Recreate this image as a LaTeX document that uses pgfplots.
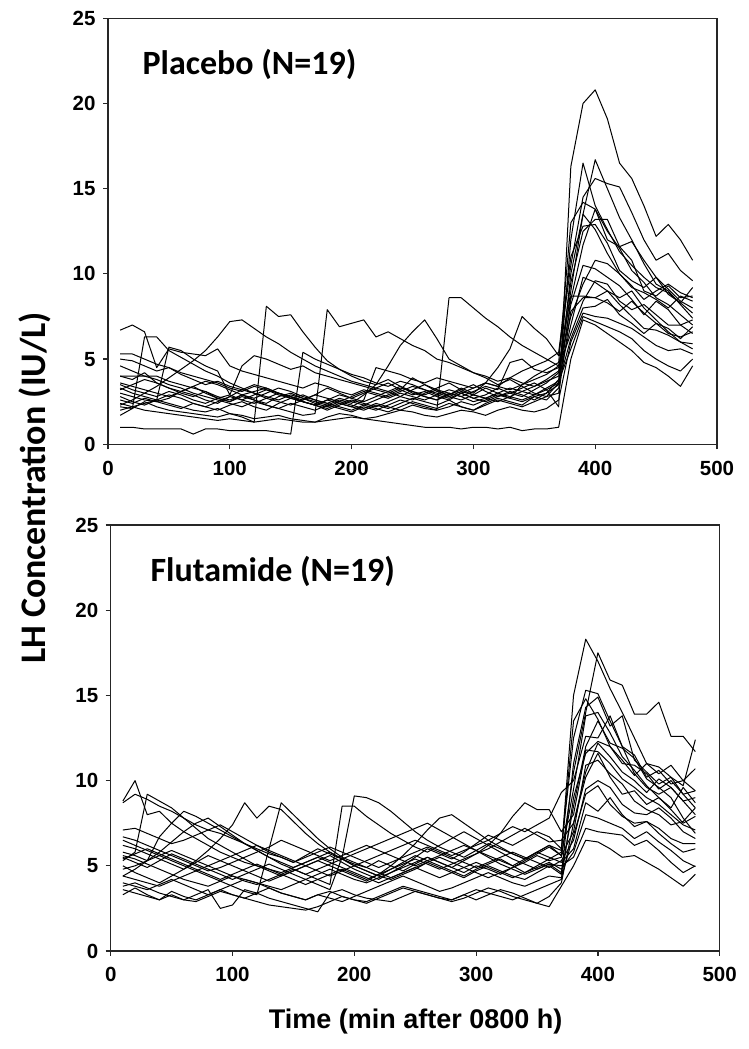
\documentclass[border=0pt]{standalone}
\usepackage{fontspec}
\setmainfont{Liberation Sans}
\newfontfamily\calibri{Carlito}
\usepackage{pgfplots}
\pgfplotsset{compat=1.18}

\newcommand\lh[1]{%
  \def\lhcoords{}%
  \foreach \v [count=\k] in {#1} {\xdef\lhcoords{\lhcoords (\the\numexpr10*\k\relax,\v)}}%
  \edef\lhtmp{\noexpand\addplot[black, line width=1pt, line join=round] coordinates {\lhcoords};}%
  \lhtmp
}

\pgfplotsset{
  lhaxis/.style={
    scale only axis, width=609pt, height=426pt,
    xmin=0, xmax=500, ymin=0, ymax=25,
    xtick={0,100,...,500}, ytick={0,5,...,25},
    tick align=outside, xtick pos=bottom, ytick pos=left,
    major tick length=5pt,
    axis line style={line width=1.2pt, black!85},
    tick style={line width=1.2pt, black!85},
    ticklabel style={font=\fontsize{20.5}{22}\selectfont\bfseries},
    xticklabel style={yshift=-8pt},
    yticklabel style={xshift=-4pt},
    /pgf/number format/assume math mode=true,
  }
}

\begin{document}
\begin{tikzpicture}[x=1pt,y=1pt]
\useasboundingbox (0pt,0pt) rectangle (749pt,1049pt);

\begin{axis}[lhaxis, at={(108pt,604.7pt)}, anchor=south west]
\lh{3.0,2.8,2.6,2.5,2.7,3.1,2.9,2.6,2.4,2.8, 3.2,3.0,2.7,2.5,2.3,2.6,2.9,3.3,3.0,2.7, 2.5,2.8,3.1,3.4,3.0,2.8,2.6,2.9,3.2,3.5, 3.1,2.8,3.0,3.3,3.6,3.2,2.2, 16.3,20.0,20.8,19.1,16.5,15.6,14.0,12.2,12.9,12.0,10.8}
\lh{4.0,3.8,4.2,3.6,3.3,3.0,2.8,3.1,2.7,2.5, 2.9,2.6,2.4,2.8,3.0,2.7,2.5,2.3,2.6,2.4, 2.9,3.5,4.6,5.8,6.6,7.3,6.2,5.0,4.6,4.2, 3.9,3.5,3.8,3.4,3.0,2.8,3.6, 12.0,16.5,14.0,12.6,11.3,10.5,9.8,9.2,8.9,8.3,7.7}
\lh{2.3,2.6,3.0,3.4,3.9,4.4,4.9,5.5,6.3,7.2, 7.3,6.8,6.3,5.9,5.4,5.0,4.6,4.3,4.0,3.7, 3.5,3.3,3.6,3.2,2.9,3.1,2.8,2.6,3.0,2.7, 2.9,3.3,3.0,2.8,3.2,3.6,4.2, 9.0,13.5,16.7,15.0,13.3,12.0,10.6,9.4,9.0,8.2,7.4}
\lh{3.6,3.4,3.2,3.0,2.8,3.1,3.4,3.0,2.7,2.9, 2.6,2.4,2.7,3.0,2.8,2.5,2.3,2.6,2.9,2.7, 3.0,3.3,3.1,2.8,3.2,3.5,3.1,2.9,3.3,3.0, 3.6,4.5,5.6,7.5,6.8,6.2,5.2, 10.5,14.5,15.6,15.3,15.1,13.6,12.0,10.8,11.2,10.2,9.6}
\lh{3.3,3.0,2.8,2.6,2.4,2.2,2.0,1.9,2.1,1.8, 1.6,1.3,8.1,7.5,7.6,6.6,5.7,4.9,4.4,4.0, 3.7,3.5,3.8,3.4,3.1,2.9,3.2,2.8,2.6,2.9, 3.3,3.0,2.7,3.5,4.0,4.4,4.8, 13.0,14.2,13.8,12.5,11.5,10.2,9.5,8.6,8.2,7.6,7.0}
\lh{5.3,5.3,5.0,4.7,4.5,4.2,4.0,3.8,3.6,3.3, 3.1,3.4,3.2,2.9,2.7,2.5,2.3,2.6,2.4,2.2, 2.0,2.3,2.1,2.4,2.7,2.5,2.3,2.6,2.2,2.0, 2.4,2.7,2.5,2.3,2.8,2.6,3.3, 8.5,11.7,13.8,12.0,11.6,10.8,9.0,8.7,9.3,8.6,8.7}
\lh{2.8,2.5,2.3,2.6,2.9,2.7,2.4,2.2,2.5,2.8, 2.6,2.9,3.2,3.0,2.7,2.5,2.3,2.0,2.3,2.6, 2.4,2.2,2.5,2.8,2.6,3.0,3.3,3.6,3.2,2.9, 2.7,2.5,2.8,3.1,3.4,3.8,4.3, 9.5,12.5,13.2,13.2,11.6,11.9,10.8,9.8,9.1,8.4,8.0}
\lh{6.7,7.0,6.6,4.5,5.6,5.4,5.3,5.2,5.6,4.6, 4.3,4.1,3.9,3.7,3.5,3.3,3.6,3.4,3.1,2.9, 3.2,3.0,2.8,3.1,3.4,3.2,2.9,2.7,3.0,3.3, 3.6,3.4,3.9,4.3,4.6,4.9,5.4, 11.0,12.8,12.9,11.8,10.2,9.6,9.2,9.8,8.8,8.3,9.2}
\lh{2.2,2.1,6.3,6.3,5.5,5.1,4.7,4.3,4.0,3.6, 3.3,3.0,2.8,2.6,2.9,2.7,2.4,2.2,2.5,2.3, 2.1,2.4,2.2,2.0,2.3,2.1,2.0,2.2,2.5,2.3, 2.6,2.9,2.7,2.5,2.8,3.0,3.5, 10.0,13.5,12.6,11.2,10.0,9.2,8.9,8.5,8.0,8.7,8.4}
\lh{3.5,3.2,3.0,2.8,3.1,2.9,2.6,2.4,2.7,2.5, 2.8,2.6,2.3,2.1,2.4,2.2,2.0,2.3,2.1,1.9, 2.2,2.0,2.3,2.6,2.4,2.2,2.0,8.6,8.6,8.0, 7.4,6.9,6.3,5.8,5.4,5.0,4.6, 7.5,9.4,10.8,10.6,10.0,9.3,8.5,9.0,9.4,8.9,8.6}
\lh{4.6,4.3,4.0,3.8,3.5,3.3,3.0,2.8,2.6,2.4, 2.2,2.5,2.3,2.1,1.9,1.7,1.8,7.9,6.9,7.1, 7.3,6.3,6.6,6.2,5.8,5.5,5.0,4.8,4.5,4.2, 4.0,3.7,3.9,3.6,3.4,3.7,4.0, 8.2,10.5,10.3,9.8,9.3,8.5,7.6,8.4,7.9,7.0,6.5}
\lh{5.0,4.9,4.6,4.3,4.5,4.1,3.8,3.5,3.7,3.4, 3.2,3.5,3.3,3.0,2.8,2.6,2.9,2.7,2.5,2.8, 3.1,2.9,2.7,3.0,2.8,2.6,2.9,3.2,3.0,2.7, 2.5,2.8,3.1,2.9,2.6,3.0,3.8, 7.0,9.8,9.5,9.0,8.6,9.0,8.0,7.3,6.6,6.0,5.9}
\lh{3.2,3.5,3.8,3.6,3.3,3.1,3.4,3.7,3.5,3.2, 2.9,2.7,3.0,3.3,3.1,2.8,2.6,2.4,2.7,2.5, 2.3,2.6,2.9,3.2,3.9,3.5,3.2,3.0,2.8,3.1, 3.4,3.2,4.8,5.0,4.4,4.2,4.5, 6.5,8.4,9.6,9.4,8.4,7.9,8.2,7.6,7.0,7.0,7.3}
\lh{2.6,2.4,2.7,2.5,2.3,2.1,2.4,2.2,2.0,2.3, 2.5,2.2,2.0,2.4,2.7,2.9,2.6,2.4,2.2,2.0, 2.3,2.1,1.9,2.2,2.5,2.3,2.1,2.4,2.2,2.0, 2.3,2.6,2.4,2.2,2.5,2.8,3.0, 7.8,8.6,8.6,9.0,8.2,7.5,6.8,6.7,6.4,6.0,5.6}
\lh{4.0,4.0,4.0,4.0,3.7,3.5,3.3,3.1,2.8,2.6, 2.9,3.1,3.3,3.0,2.8,2.5,2.3,2.1,2.4,2.2, 2.6,4.5,4.3,4.1,3.8,3.6,3.9,3.7,3.5,3.3, 3.6,3.4,3.2,3.5,3.8,4.1,4.6, 8.7,8.7,8.6,8.3,7.8,8.4,7.7,7.1,6.8,6.2,6.9}
\lh{2.0,2.2,2.4,2.6,5.7,5.5,5.0,4.6,4.3,2.9, 4.6,5.2,5.0,4.7,4.4,4.6,4.2,4.0,3.8,3.6, 3.4,3.2,3.0,3.3,3.1,2.8,2.6,3.0,2.8,2.5, 2.7,3.0,2.8,2.6,2.9,3.2,3.6, 6.2,8.0,8.1,8.5,7.6,7.1,6.5,7.1,6.5,6.3,6.6}
\lh{1.7,2.1,2.5,2.2,2.0,1.9,1.8,1.7,1.6,1.8, 1.7,1.5,1.6,1.7,1.5,1.4,1.3,1.6,1.8,1.7, 1.5,1.6,1.8,2.0,1.9,1.7,1.6,1.8,2.0,1.9, 1.7,2.0,2.2,2.0,1.9,2.1,2.6, 6.0,7.7,7.5,7.4,7.1,6.8,6.3,5.8,5.5,5.6,5.3}
\lh{1.0,1.0,0.9,0.9,0.9,0.9,0.6,0.9,0.9,0.8, 0.8,0.8,0.8,0.7,0.6,5.4,5.0,4.7,4.4,4.1, 3.9,3.6,3.4,3.7,3.5,3.2,3.0,2.8,3.1,2.9, 2.7,3.0,3.3,3.1,2.9,3.3,3.7, 5.6,7.5,7.2,6.9,6.6,6.2,5.5,5.0,4.6,4.3,5.0}
\lh{2.4,2.2,2.0,1.9,1.8,1.7,1.6,1.5,1.4,1.5, 1.4,1.3,1.4,1.5,1.4,1.3,1.3,1.4,1.5,1.6, 1.5,1.4,1.3,1.2,1.1,1.0,1.0,1.0,0.9,1.0, 1.0,0.9,1.0,0.8,0.9,0.9,1.0, 5.0,7.3,7.0,6.5,6.0,5.5,4.8,4.5,4.0,3.4,4.6}
\node[anchor=base west, font=\calibri\bfseries\fontsize{34}{36}\selectfont] at (rel axis cs:0.051,0.8685) {Placebo (N=19)};
\end{axis}

\begin{axis}[lhaxis, at={(110.7pt,98pt)}, anchor=south west]
\lh{8.8,10.0,8.0,8.2,7.5,7.0,6.6,6.2,5.8,5.5, 5.2,5.0,4.8,4.6,4.9,5.2,5.5,5.8,5.4,5.0, 4.7,4.4,4.8,5.2,5.6,5.3,5.0,4.7,4.4,4.8, 5.1,5.4,5.0,4.6,5.0,5.4,5.8, 15.0,18.3,17.0,15.4,14.0,12.5,11.0,10.8,10.2,9.7,12.4}
\lh{8.7,9.2,8.9,8.5,8.2,7.8,7.4,7.1,6.9,6.6, 6.3,6.0,5.7,5.5,5.2,5.6,6.0,5.7,5.4,5.1, 4.9,5.3,5.0,4.7,5.1,5.5,5.2,4.9,4.6,5.0, 4.8,4.5,4.9,5.2,5.6,5.3,5.5, 10.5,14.0,17.5,15.9,15.6,13.9,13.9,14.6,12.6,12.6,11.7}
\lh{5.3,5.8,9.2,8.8,8.4,7.8,7.2,6.6,6.2,5.8, 5.4,5.0,4.7,4.4,4.7,5.0,5.3,5.6,5.2,4.8, 4.5,4.2,4.6,5.0,5.5,6.0,5.7,5.4,5.8,6.3, 6.8,6.5,6.2,6.6,7.0,6.7,6.0, 12.5,15.3,15.1,13.5,12.0,11.5,10.2,10.6,9.8,10.0,9.4}
\lh{5.0,4.6,4.3,4.0,4.4,4.8,5.3,5.9,6.6,7.4, 8.7,7.8,8.5,8.3,7.6,6.9,6.3,5.8,5.4,5.0, 4.7,4.4,4.2,4.5,4.8,5.2,4.9,4.6,4.3,4.7, 5.0,4.7,4.4,4.2,4.6,5.0,4.5, 11.0,14.3,14.9,13.2,13.8,11.2,10.5,9.8,10.2,9.2,8.4}
\lh{6.5,6.2,5.9,5.6,5.3,5.0,4.7,4.4,4.1,3.8, 3.5,3.3,6.0,8.7,8.0,7.3,6.6,6.0,5.5,5.2, 4.9,4.6,4.3,4.6,4.9,5.2,5.5,5.2,4.9,4.6, 4.3,4.6,4.9,5.3,5.7,6.1,5.6, 9.5,13.8,14.0,12.8,11.4,10.6,9.7,9.0,8.4,9.6,8.7}
\lh{5.6,5.4,5.1,4.8,4.5,4.2,4.0,3.8,4.1,4.4, 4.2,4.0,3.8,3.6,3.9,4.2,3.9,3.6,5.5,9.1, 9.0,8.7,8.2,7.6,7.0,6.5,6.1,5.8,5.5,5.9, 6.3,6.0,5.7,5.4,5.8,6.2,5.9, 13.5,14.8,13.6,12.0,11.2,10.3,11.0,10.4,10.9,10.0,10.7}
\lh{4.4,4.2,4.0,3.8,4.1,4.4,4.7,5.0,4.7,4.4, 4.1,3.9,4.2,4.5,4.8,4.5,4.2,3.9,8.5,8.5, 7.9,7.4,6.9,6.5,6.1,5.8,6.2,6.6,7.0,6.6, 6.2,5.8,5.4,5.1,4.8,5.1,4.6, 8.5,12.0,13.5,12.2,11.9,11.3,10.1,9.6,9.0,7.8,6.9}
\lh{3.3,3.7,3.3,3.0,3.5,3.2,3.0,3.3,3.6,3.3, 3.1,3.4,3.7,3.4,3.2,3.0,3.3,3.5,3.2,3.0, 2.9,3.2,3.5,3.8,3.6,3.4,3.2,3.0,3.3,3.6, 3.4,3.2,3.0,3.3,3.6,3.9,4.2, 9.0,11.6,12.3,12.0,11.0,10.9,10.4,9.5,10.0,9.2,9.4}
\lh{3.8,4.0,3.7,3.4,3.2,3.0,3.3,3.6,2.5,2.7, 3.6,3.4,3.1,2.9,2.7,2.5,2.3,3.4,3.6,3.3, 3.1,3.0,2.9,3.2,3.5,3.3,3.1,3.0,3.3,3.0, 3.3,3.6,3.4,3.1,2.8,3.2,4.0, 7.5,10.5,12.2,11.4,10.5,10.0,9.3,10.1,9.6,8.8,8.0}
\lh{5.5,5.2,4.9,5.3,5.7,5.4,5.1,4.8,4.5,4.2, 4.5,4.8,5.1,4.8,4.5,4.2,4.5,4.8,4.5,4.2, 4.0,4.3,4.6,4.9,5.2,5.5,5.2,4.9,5.3,5.7, 6.2,6.9,7.9,8.7,8.3,8.3,7.0, 8.0,11.8,11.7,11.0,10.1,9.6,9.0,8.6,8.0,7.4,7.1}
\lh{6.2,6.0,5.7,5.4,5.1,4.8,5.2,5.6,5.3,5.0, 4.7,4.4,4.1,4.4,4.7,5.0,5.3,5.0,4.7,4.4, 4.1,4.5,5.0,5.6,6.3,7.1,7.8,8.0,7.5,7.0, 6.5,6.1,5.7,5.4,5.8,6.2,5.6, 7.0,10.9,11.2,10.4,9.8,8.8,8.3,8.0,7.4,7.6,8.4}
\lh{7.1,7.2,6.9,6.6,6.3,6.5,6.8,7.1,7.4,7.0, 6.6,6.2,5.8,5.5,5.2,5.5,5.8,6.1,5.8,5.5, 5.2,4.9,5.2,5.5,5.8,6.1,5.8,5.5,5.2,4.9, 5.2,5.5,5.8,5.5,5.2,4.9,5.3, 6.5,9.5,10.0,9.6,8.6,8.1,8.0,8.4,7.8,7.0,6.6}
\lh{4.0,3.8,3.6,3.9,4.2,3.9,3.6,3.3,3.6,3.9, 4.2,4.0,3.7,3.4,3.2,3.0,3.3,3.1,2.9,3.2, 3.5,3.8,4.1,4.4,4.1,3.8,3.5,3.7,4.0,4.3, 4.6,4.3,4.0,3.8,4.1,4.4,4.3, 6.8,9.2,9.7,8.6,7.9,7.5,7.6,7.2,6.6,6.3,6.3}
\lh{6.7,6.5,6.2,5.9,5.6,5.3,5.0,4.7,4.9,5.2, 5.5,5.8,6.1,6.5,6.2,5.9,5.6,5.3,5.6,5.9, 6.2,5.9,5.6,5.3,5.0,5.3,5.6,5.9,6.2,5.9, 5.6,5.3,5.0,5.4,5.8,5.5,5.2, 6.0,8.7,8.2,9.0,8.0,7.3,7.6,6.9,6.3,5.8,6.0}
\lh{4.4,4.8,5.3,5.8,6.4,7.0,7.5,7.8,7.3,6.8, 6.3,5.9,5.5,5.2,4.9,5.2,5.5,5.2,4.9,4.6, 4.3,4.0,4.3,4.6,4.9,4.6,4.3,4.6,4.9,5.2, 4.9,4.6,4.3,4.6,4.9,5.2,4.8, 5.8,8.0,7.8,7.5,7.2,6.6,7.0,6.4,5.9,5.3,4.95}
\lh{5.8,5.6,5.3,6.7,7.5,8.2,7.9,7.5,7.1,6.7, 6.3,5.9,5.5,5.1,4.8,4.5,4.8,5.1,5.4,5.7, 6.0,6.3,6.6,6.9,7.2,7.5,7.1,6.7,6.3,5.9, 5.5,5.1,4.8,4.5,4.8,5.1,5.0, 5.5,7.2,7.0,6.9,6.8,6.2,6.5,5.9,5.2,4.6,5.0}
\lh{3.6,3.4,3.2,3.0,3.3,3.0,2.9,3.2,3.5,3.3, 3.1,2.9,2.7,2.6,2.5,2.4,2.6,2.9,3.2,3.0, 2.8,3.1,3.4,3.7,3.5,3.3,3.1,2.9,3.1,3.4, 3.7,3.5,3.2,3.0,2.8,2.6,3.8, 5.0,6.5,6.4,6.0,5.5,5.6,5.2,4.8,4.3,3.8,4.5}
\lh{5.4,5.7,6.0,5.7,5.4,5.1,4.8,4.5,4.2,4.5, 4.8,5.1,4.8,4.5,4.2,3.9,4.2,4.5,4.8,4.5, 4.2,4.5,4.8,5.1,5.4,5.1,4.8,5.1,5.4,5.7, 6.0,6.4,6.8,7.2,6.8,6.4,6.5, 7.5,10.2,11.6,10.2,9.2,9.4,8.6,9.0,8.3,7.5,7.9}
\lh{4.8,5.0,5.3,5.6,5.9,5.6,5.3,5.0,5.3,5.6, 5.9,6.2,5.9,5.6,5.3,5.0,4.7,4.4,4.7,5.0, 5.3,5.6,5.9,6.2,6.5,6.2,5.9,5.6,5.9,6.2, 6.5,6.9,7.3,7.0,7.4,7.8,9.3, 10.0,12.6,12.5,13.8,12.0,10.4,9.6,9.2,9.6,8.8,9.0}
\node[anchor=base west, font=\calibri\bfseries\fontsize{34}{36}\selectfont] at (rel axis cs:0.0596,0.8685) {Flutamide (N=19)};
\end{axis}

\node[rotate=90, font=\calibri\bfseries\fontsize{36}{40}\selectfont] at (35pt,561pt) {LH Concentration (IU/L)};
\node[anchor=base, font=\bfseries\fontsize{27}{30}\selectfont] at (415.7pt,20pt) {Time (min after 0800 h)};
\end{tikzpicture}
\end{document}
